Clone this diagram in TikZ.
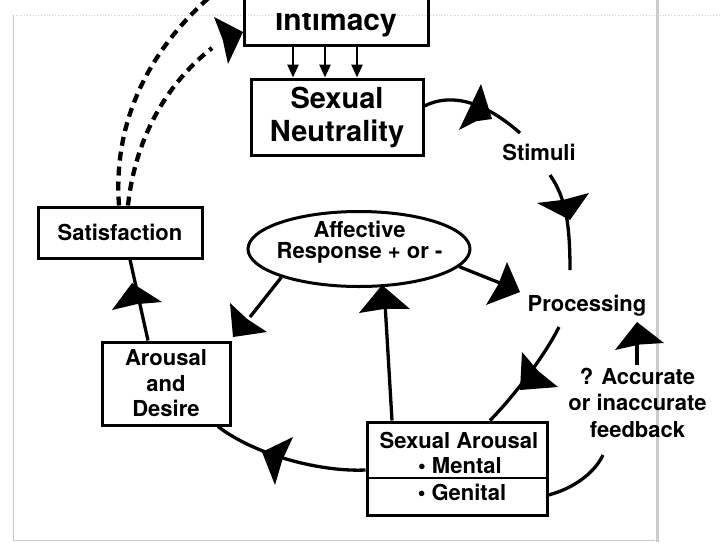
\documentclass[tikz,border=0pt]{standalone}
\usepackage{fontspec}
\setmainfont{TeX Gyre Heros}
\usetikzlibrary{calc,shapes.geometric,arrows.meta}

% big filled arrowhead with a slightly hollow base: tip, corner, corner
\newcommand\bighead[3]{\fill #1 -- #2 -- ($#2!0.5!#3!0.08!#1$) -- #3 -- cycle;}

\begin{document}
\begin{tikzpicture}[x=1pt,y=-1pt,
  box/.style={draw, line width=3pt, inner sep=0pt, align=center},
  lbl/.style={font=\fontsize{22}{25.5}\selectfont\bfseries, inner sep=0pt, align=center},
  biglbl/.style={font=\fontsize{29}{33}\selectfont\bfseries, align=center},
  conn/.style={line width=3.3pt},
  linkdash/.style={line width=4.3pt, dash pattern=on 9pt off 6pt},
  smallarrow/.style={line width=2.5pt, -{Triangle[length=13pt,width=11pt]}}]

\fill[white] (0,0) rectangle (721,542);
\useasboundingbox (0,0) rectangle (721,542);

% faint page frame and scanner streak
\draw[black!18, line width=0.8pt, dotted] (13,15) -- (721,15);
\draw[black!22, line width=0.8pt] (13,15) -- (13,540) -- (655,540);
\draw[black!20, line width=3pt] (657,0) -- (657,542);

% ---- boxes and labels ----
\node[box, biglbl, font=\fontsize{30}{33}\selectfont\bfseries, anchor=base, minimum width=184pt,
      text height=60pt, text depth=8pt, inner xsep=0pt, inner ysep=7pt] (intim) at (336,30) {Intimacy};
% the page edge trims the top of the heading
\fill[white] (247,-2) rectangle (425,13);
\node[box, biglbl, minimum width=172pt, minimum height=76pt] (neut) at (337,117) {Sexual\\Neutrality};
\node[box, lbl, minimum width=164pt, minimum height=51pt] (sat) at (120,232.5) {Satisfaction};
\node[box, lbl, minimum width=128pt, minimum height=83pt] (ad) at (166,383.5) {Arousal\\and\\Desire};
\node[draw, line width=3pt, ellipse, minimum width=222pt, minimum height=75pt, inner sep=0pt] (aff) at (359,249) {};
\node[lbl, font=\fontsize{22}{21}\selectfont\bfseries] (afftxt) at (359.5,241.8) {Affective\\Response + or -};
\node[draw, line width=3pt, minimum width=180pt, minimum height=93pt, inner sep=0pt] (sa) at (457,468.5) {};
\draw[line width=2.5pt] (sa.west |- 0,478) -- (sa.east |- 0,478);
\node[lbl, anchor=base] (satitle) at (459,448) {Sexual Arousal};
\node[lbl, anchor=base] (samental) at (460,473) {\textbullet\ Mental};
\node[lbl, anchor=base] (sagenital) at (462,500) {\textbullet\ Genital};
\node[lbl, anchor=base] (stim) at (539,160) {Stimuli};
\node[lbl, anchor=base] (proc) at (587,311) {Processing};
\node[lbl, font=\fontsize{22}{26.5}\selectfont\bfseries] (fb) at (637.5,402.5) {? Accurate\\or inaccurate\\feedback};

% ---- free ends of the cycle curves ----
\coordinate (stimin) at (520,133);
\coordinate (stimout) at (550,175);
\coordinate (procin) at (570,270);
\coordinate (procout) at (559,327);
\coordinate (fbin) at (603,455);
\coordinate (fbout) at (637,365);
\coordinate (fbtip) at (637,340);
\coordinate (affin) at (505,285);
\coordinate (adin) at (250,317);
\coordinate (affup) at (385,303);
\coordinate (skyout) at (212,-5);
\coordinate (intimin) at (212,48);

% ---- intimacy feeds neutrality ----
\foreach \x in {293,325,357}
  \draw[smallarrow] (\x,0 |- intim.south) -- (\x,0 |- neut.north);

% ---- the response cycle ----
\draw[conn] (neut.east |- 0,106) .. controls (446,95) and (478,96) .. (stimin);
\draw[conn] (stimout) .. controls (566,198) and (570,225) .. (procin);
\draw[conn] (procout) .. controls (545,355) and (515,395) .. (490,0 |- sa.north);
\draw[conn] (sa.west |- 0,470) .. controls (320,472) and (255,455) .. (218,0 |- ad.south);
\draw[conn] (148,0 |- ad.north) -- (130,0 |- sat.south);
\draw[conn] (aff.200) -- (adin);
\draw[conn] (aff.-10) -- (affin);
\draw[conn] (392,0 |- sa.north) -- (affup);
\draw[conn] (sa.east |- 0,495) .. controls (575,488) and (595,472) .. (fbin);
\draw[conn] (fbout) -- (fbtip);

% ---- satisfaction back to intimacy ----
\draw[linkdash] (119,0 |- sat.north) .. controls (112,110) and (160,40) .. (skyout);
\draw[linkdash] (128,0 |- sat.north) .. controls (135,140) and (165,85) .. (intimin);

% ---- big arrowheads ----
\bighead{(481,84)}{(459,130)}{(492,119)}
\bighead{(570,220)}{(537,203)}{(589,193)}
\bighead{(520,292)}{(507,262)}{(486,305)}
\bighead{(520,390)}{(522,352)}{(558,387)}
\bighead{(637,322)}{(615,350)}{(664,343)}
\bighead{(382,285)}{(359,313)}{(410,309)}
\bighead{(233,337)}{(230,303)}{(267,332)}
\bighead{(262,452)}{(293,437)}{(275,485)}
\bighead{(132,283)}{(112,310)}{(162,302)}
\bighead{(243,32)}{(214,17)}{(228,64)}
\end{tikzpicture}
\end{document}
